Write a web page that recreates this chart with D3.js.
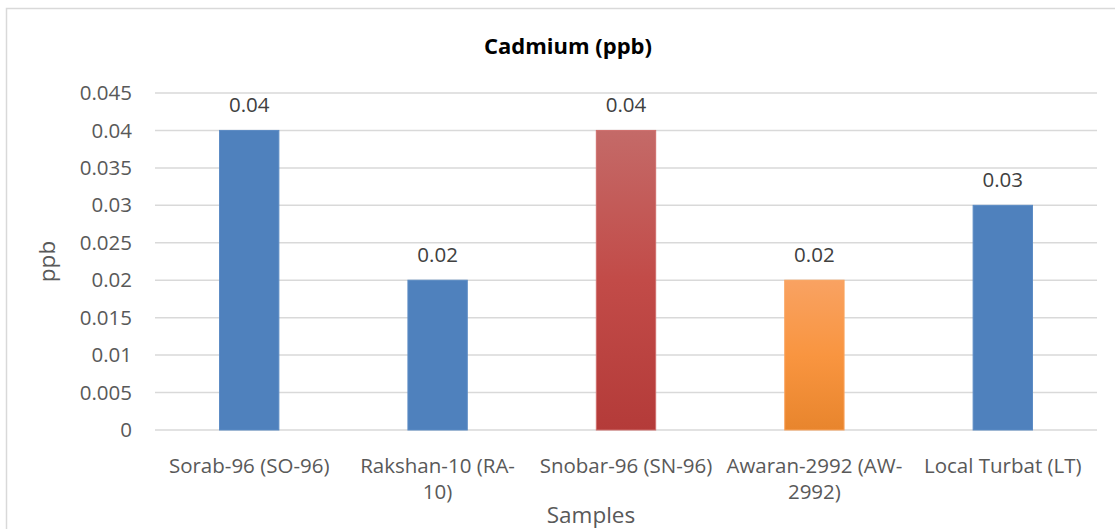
<!DOCTYPE html>
<html>
<head>
<meta charset="utf-8">
<script src="https://cdn.jsdelivr.net/npm/d3@7"></script>
<style>
  html, body { margin: 0; padding: 0; background: #fff; }
  svg { display: block; font-family: "Open Sans", sans-serif; }
</style>
</head>
<body>
<svg id="chart" width="1115" height="529"></svg>
<script>
// Cadmium content per sample (ppb)
const categories = ["Sorab-96 (SO-96)", "Rakshan-10 (RA-10)", "Snobar-96 (SN-96)", "Awaran-2992 (AW-2992)", "Local Turbat (LT)"];
const categoryLines = [["Sorab-96 (SO-96)"], ["Rakshan-10 (RA-", "10)"], ["Snobar-96 (SN-96)"], ["Awaran-2992 (AW-", "2992)"], ["Local Turbat (LT)"]];
const values = [0.04, 0.02, 0.04, 0.02, 0.03];
const fills = ["blue", "blue", "red", "orange", "blue"];
const yTicks = [0, 0.005, 0.01, 0.015, 0.02, 0.025, 0.03, 0.035, 0.04, 0.045];
const title = "Cadmium (ppb)";
const xTitle = "Samples";
const yTitle = "ppb";

const svg = d3.select("#chart");
const plot = { left: 155, right: 1097, top: 93, bottom: 430 };
const labelSize = 20.5;

// Gradients for the highlighted bars
const defs = svg.append("defs");
const gradients = {
  red: [["0%", "#C46A68"], ["50%", "#C24B48"], ["100%", "#B43B39"]],
  orange: [["0%", "#F9A262"], ["50%", "#F99540"], ["100%", "#E8852D"]]
};
Object.entries(gradients).forEach(([name, stops]) => {
  const g = defs.append("linearGradient").attr("id", "grad-" + name)
    .attr("x1", 0).attr("y1", 0).attr("x2", 0).attr("y2", 1);
  stops.forEach(([o, c]) => g.append("stop").attr("offset", o).attr("stop-color", c));
});
const fillOf = { blue: "#4F81BD", red: "url(#grad-red)", orange: "url(#grad-orange)" };
const strokeOf = { blue: "#5B8BC4", red: "#CF6F6C", orange: "#FAA45E" };

// Chart border
svg.append("rect").attr("x", 6.5).attr("y", 8.5).attr("width", 1130).attr("height", 540)
  .attr("fill", "none").attr("stroke", "#D9D9D9").attr("stroke-width", 1.5);

const x = d3.scaleBand().domain(categories).range([plot.left, plot.right]).paddingInner(0.685).paddingOuter(0.3425);
const y = d3.scaleLinear().domain([0, 0.045]).range([plot.bottom, plot.top]);

// Horizontal gridlines
svg.append("g").selectAll("line").data(yTicks).join("line")
  .attr("x1", plot.left).attr("x2", plot.right)
  .attr("y1", d => y(d)).attr("y2", d => y(d))
  .attr("stroke", "#D9D9D9").attr("stroke-width", 1.5);

// Y axis tick labels
const yAxis = svg.append("g").attr("transform", `translate(${plot.left},0)`)
  .call(d3.axisLeft(y).tickValues(yTicks).tickSize(0).tickPadding(23).tickFormat(d => String(+d.toFixed(3))));
yAxis.select(".domain").remove();
yAxis.selectAll("text").attr("font-size", labelSize).attr("fill", "#595959").attr("font-family", "'Open Sans', sans-serif");

// Bars
svg.append("g").selectAll("rect").data(values).join("rect")
  .attr("x", (d, i) => x(categories[i]))
  .attr("width", x.bandwidth())
  .attr("y", d => y(d))
  .attr("height", d => y(0) - y(d))
  .attr("fill", (d, i) => fillOf[fills[i]])
  .attr("stroke", (d, i) => strokeOf[fills[i]])
  .attr("stroke-width", 1);

// Value labels
svg.append("g").selectAll("text").data(values).join("text")
  .attr("x", (d, i) => x(categories[i]) + x.bandwidth() / 2)
  .attr("y", d => y(d) - 18)
  .attr("text-anchor", "middle")
  .attr("font-size", labelSize).attr("fill", "#404040")
  .text(d => String(d));

// Category labels
const xl = svg.append("g").selectAll("text").data(categories).join("text")
  .attr("x", d => x(d) + x.bandwidth() / 2)
  .attr("y", 473)
  .attr("text-anchor", "middle")
  .attr("font-size", labelSize).attr("fill", "#595959");
xl.selectAll("tspan").data((d, i) => categoryLines[i]).join("tspan")
  .attr("x", function () { return d3.select(this.parentNode).attr("x"); })
  .attr("dy", (d, j) => j === 0 ? 0 : 26)
  .text(d => d);

// Titles
svg.append("text").attr("x", 568).attr("y", 53.5).attr("text-anchor", "middle")
  .attr("font-size", 22).attr("font-weight", "bold").attr("fill", "#000").text(title);
svg.append("text").attr("x", 591).attr("y", 523).attr("text-anchor", "middle")
  .attr("font-size", 22.5).attr("fill", "#595959").text(xTitle);
svg.append("text").attr("transform", `translate(55,${(plot.top + plot.bottom) / 2}) rotate(-90)`)
  .attr("text-anchor", "middle").attr("font-size", 22.5).attr("fill", "#595959").text(yTitle);
</script>
</body>
</html>
